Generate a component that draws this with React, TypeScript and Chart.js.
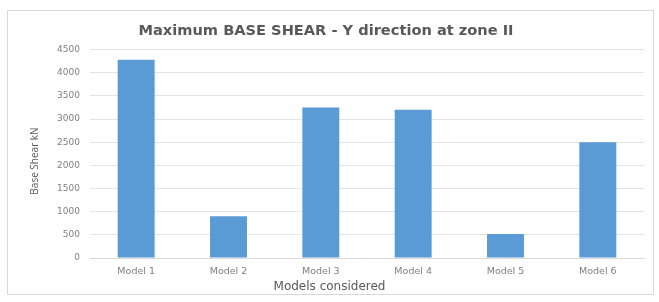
import React, { useEffect, useRef } from "react";
import { Chart, registerables } from "chart.js";

Chart.register(...registerables);

const categories = ["Model 1", "Model 2", "Model 3", "Model 4", "Model 5", "Model 6"];
const baseShear = [4280, 900, 3250, 3200, 520, 2500];
const yTicks = [0, 500, 1000, 1500, 2000, 2500, 3000, 3500, 4000, 4500];
const chartTitle = "Maximum BASE SHEAR - Y direction at zone II";
const xTitle = "Models considered";
const yTitle = "Base Shear kN";

const FONT = "'Open Sans', 'Liberation Sans', sans-serif";
const WIDE = "'DejaVu Sans', sans-serif";

const borderPlugin = {
  id: "outerBorder",
  beforeDraw(chart: any) {
    const { ctx, width, height } = chart;
    ctx.save();
    ctx.fillStyle = "#ffffff";
    ctx.fillRect(0, 0, width, height);
    ctx.strokeStyle = "#d9d9d9";
    ctx.lineWidth = 1;
    ctx.strokeRect(7.5, 10.5, width - 13, height - 18);
    ctx.restore();
  },
  afterDraw(chart: any) {
    const { ctx, width } = chart;
    ctx.save();
    ctx.fillStyle = "#595959";
    ctx.textAlign = "center";
    ctx.textBaseline = "middle";
    ctx.font = `12px ${WIDE}`;
    ctx.fillText(xTitle, width / 2, 287);
    ctx.translate(35, 161);
    ctx.rotate(-Math.PI / 2);
    ctx.font = `10px ${FONT}`;
    ctx.fillText(yTitle, 0, 0);
    ctx.restore();
  },
};

export default function App() {
  const ref = useRef<HTMLCanvasElement>(null);
  useEffect(() => {
    const chart = new Chart(ref.current as HTMLCanvasElement, {
      type: "bar",
      data: {
        labels: categories,
        datasets: [
          {
            label: "Base Shear",
            data: baseShear,
            backgroundColor: "#5b9bd5",
            categoryPercentage: 1,
            barPercentage: 0.4,
          },
        ],
      },
      options: {
        animation: false,
        responsive: false,
        maintainAspectRatio: false,
        layout: { padding: { left: 8, right: 15, top: 10, bottom: 8 } },
        plugins: {
          legend: { display: false },
          tooltip: { enabled: false },
          title: {
            display: true,
            text: chartTitle,
            color: "#595959",
            font: { family: WIDE, size: 14.6, weight: "bold" },
            padding: { top: 12, bottom: 10 },
          },
        },
        scales: {
          x: {
            grid: { display: false, drawTicks: false },
            border: { display: true, color: "#d9d9d9" },
            ticks: { color: "#7f7f7f", font: { family: WIDE, size: 9.5 }, padding: 8 },
            afterFit(scale: any) {
              scale.height = 36;
            },
          },
          y: {
            min: 0,
            max: 4500,
            grid: { color: "#e4e4e4", drawTicks: false },
            border: { display: false },
            afterBuildTicks(scale: any) {
              scale.ticks = yTicks.map((v) => ({ value: v }));
            },
            ticks: {
              color: "#7f7f7f",
              font: { family: WIDE, size: 9 },
              padding: 10,
              callback: (v: any) => String(v),
            },
            afterFit(scale: any) {
              scale.width = 82;
            },
          },
        },
      },
      plugins: [borderPlugin],
    });
    return () => chart.destroy();
  }, []);
  return (
    <div style={{ position: "fixed", left: 0, top: 0, width: 659, height: 302 }}>
      <canvas ref={ref} width={659} height={302} style={{ width: 659, height: 302 }} />
    </div>
  );
}
